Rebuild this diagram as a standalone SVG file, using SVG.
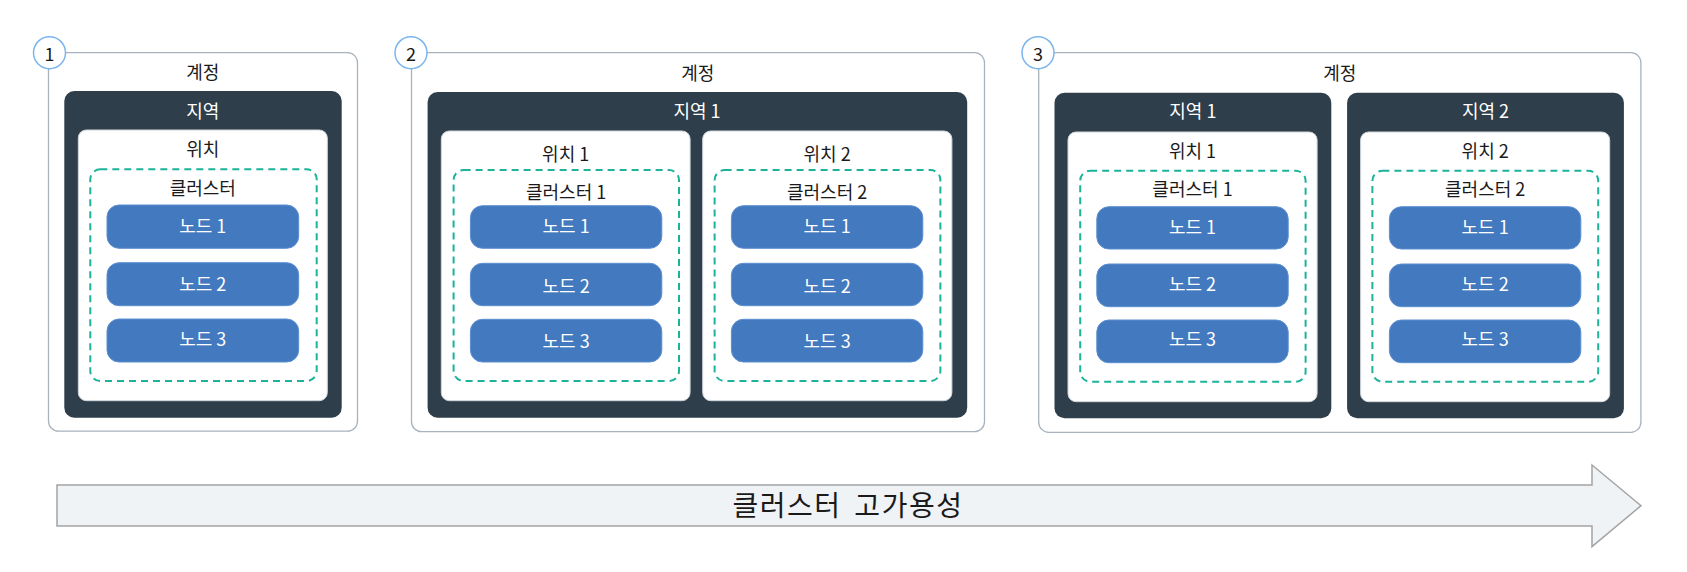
<svg xmlns="http://www.w3.org/2000/svg" width="1687" height="572" viewBox="0 0 1687 572">
<style>
text{font-family:"Noto Sans CJK KR","Noto Sans",sans-serif;font-size:18px;text-anchor:middle;dominant-baseline:central;fill:#1a1a1a}
.acct{fill:#fff;stroke:#a9b3bd;stroke-width:1.3}
.region{fill:#2e3e4a}
.loc{fill:#fff;stroke:#d0d6dc;stroke-width:1}
.clu{fill:none;stroke:#1db39b;stroke-width:2;stroke-dasharray:7 5}
.node{fill:#4379be;stroke:#5c8fd2;stroke-width:1}
.w{fill:#fff}
.num{fill:#fff;stroke:#7ab5ee;stroke-width:1.5}
.big{font-size:28px;letter-spacing:1.5px;word-spacing:5px}
</style>

<g id="panel1">
  <rect class="acct" x="48.5" y="52.7" width="309" height="378.5" rx="10"/>
  <circle class="num" cx="49.5" cy="52.7" r="16"/>
  <text x="49.5" y="52.7">1</text>
  <text x="202.7" y="70.8">계정</text>
  <g id="p1-region">
    <rect class="region" x="64.3" y="91" width="277.4" height="326.7" rx="10"/>
    <text class="w" x="202.8" y="110">지역</text>
  </g>
  <g id="p1-loc">
    <rect class="loc" x="78.3" y="130" width="249" height="270.7" rx="8"/>
    <text x="202.8" y="148.3">위치</text>
  </g>
  <g id="p1-cluster">
    <rect class="clu" x="90.3" y="169.3" width="226.4" height="211.7" rx="10"/>
    <text x="202.8" y="186.7">클러스터</text>
  </g>
  <g id="p1-n1"><rect class="node" x="107" y="205" width="191.7" height="43.3" rx="12"/><text class="w" x="202.8" y="224.5">노드 1</text></g>
  <g id="p1-n2"><rect class="node" x="107" y="262.7" width="191.7" height="43" rx="12"/><text class="w" x="202.8" y="282.5">노드 2</text></g>
  <g id="p1-n3"><rect class="node" x="107" y="319" width="191.7" height="43" rx="12"/><text class="w" x="202.8" y="338">노드 3</text></g>
</g>

<g id="panel2">
  <rect class="acct" x="411.5" y="52.7" width="573" height="379" rx="10"/>
  <circle class="num" cx="411" cy="52.7" r="16"/>
  <text x="411" y="52.7">2</text>
  <text x="697.7" y="71.7">계정</text>
  <g id="p2-region">
    <rect class="region" x="427.6" y="92" width="539.6" height="325.7" rx="10"/>
    <text class="w" x="697" y="110">지역 1</text>
  </g>
  <g id="p2-loc1">
    <rect class="loc" x="441.3" y="131" width="248.8" height="269.7" rx="8"/>
    <text x="565.7" y="152.8">위치 1</text>
  </g>
  <g id="p2-loc2">
    <rect class="loc" x="702.7" y="131" width="249.2" height="269.7" rx="8"/>
    <text x="827.1" y="152.8">위치 2</text>
  </g>
  <g id="p2-cluster1">
    <rect class="clu" x="453.6" y="170" width="225.4" height="211" rx="10"/>
    <text x="566.1" y="191.3">클러스터 1</text>
  </g>
  <g id="p2-cluster2">
    <rect class="clu" x="714.6" y="170" width="225.8" height="211" rx="10"/>
    <text x="827.1" y="191.3">클러스터 2</text>
  </g>
  <g id="p2-c1-n1"><rect class="node" x="470.4" y="205.7" width="191.4" height="42.6" rx="12"/><text class="w" x="566.1" y="224.5">노드 1</text></g>
  <g id="p2-c1-n2"><rect class="node" x="470.4" y="263.3" width="191.4" height="42.4" rx="12"/><text class="w" x="566.1" y="284.5">노드 2</text></g>
  <g id="p2-c1-n3"><rect class="node" x="470.4" y="319.3" width="191.4" height="42.7" rx="12"/><text class="w" x="566.1" y="339.5">노드 3</text></g>
  <g id="p2-c2-n1"><rect class="node" x="731.4" y="205.7" width="191.4" height="42.6" rx="12"/><text class="w" x="827.1" y="224.5">노드 1</text></g>
  <g id="p2-c2-n2"><rect class="node" x="731.4" y="263.3" width="191.4" height="42.4" rx="12"/><text class="w" x="827.1" y="284.5">노드 2</text></g>
  <g id="p2-c2-n3"><rect class="node" x="731.4" y="319.3" width="191.4" height="42.7" rx="12"/><text class="w" x="827.1" y="339.5">노드 3</text></g>
</g>

<g id="panel3">
  <rect class="acct" x="1038.7" y="52.7" width="602.2" height="379.6" rx="10"/>
  <circle class="num" cx="1038" cy="52.7" r="16"/>
  <text x="1038" y="52.7">3</text>
  <text x="1339.8" y="71.7">계정</text>
  <g id="p3-region1">
    <rect class="region" x="1054.5" y="92.7" width="276.8" height="325.6" rx="10"/>
    <text class="w" x="1192.9" y="110">지역 1</text>
  </g>
  <g id="p3-region2">
    <rect class="region" x="1347.1" y="92.7" width="276.8" height="325.6" rx="10"/>
    <text class="w" x="1485.5" y="110">지역 2</text>
  </g>
  <g id="p3-loc1">
    <rect class="loc" x="1068" y="132" width="249.1" height="269.7" rx="8"/>
    <text x="1192.5" y="149.5">위치 1</text>
  </g>
  <g id="p3-loc2">
    <rect class="loc" x="1360.6" y="132" width="249.1" height="269.7" rx="8"/>
    <text x="1485.2" y="149.5">위치 2</text>
  </g>
  <g id="p3-cluster1">
    <rect class="clu" x="1080.2" y="170.7" width="225.4" height="211" rx="10"/>
    <text x="1192.5" y="187.8">클러스터 1</text>
  </g>
  <g id="p3-cluster2">
    <rect class="clu" x="1372.4" y="170.7" width="225.8" height="211" rx="10"/>
    <text x="1485.2" y="187.8">클러스터 2</text>
  </g>
  <g id="p3-c1-n1"><rect class="node" x="1096.8" y="206.7" width="191.4" height="42.3" rx="12"/><text class="w" x="1192.5" y="226">노드 1</text></g>
  <g id="p3-c1-n2"><rect class="node" x="1096.8" y="264" width="191.4" height="42.7" rx="12"/><text class="w" x="1192.5" y="282.8">노드 2</text></g>
  <g id="p3-c1-n3"><rect class="node" x="1096.8" y="320" width="191.4" height="42.7" rx="12"/><text class="w" x="1192.5" y="337.5">노드 3</text></g>
  <g id="p3-c2-n1"><rect class="node" x="1389.4" y="206.7" width="191.4" height="42.3" rx="12"/><text class="w" x="1485.1" y="226">노드 1</text></g>
  <g id="p3-c2-n2"><rect class="node" x="1389.4" y="264" width="191.4" height="42.7" rx="12"/><text class="w" x="1485.1" y="282.8">노드 2</text></g>
  <g id="p3-c2-n3"><rect class="node" x="1389.4" y="320" width="191.4" height="42.7" rx="12"/><text class="w" x="1485.1" y="337.5">노드 3</text></g>
</g>

<g id="connectors">
  <g id="ha-arrow">
    <polygon points="57,485 1592,485 1592,465 1641,505.7 1592,546.7 1592,526 57,526" fill="#f0f3f6" stroke="#a4a4a4" stroke-width="1.5"/>
    <text class="big" x="848" y="504.2">클러스터 고가용성</text>
  </g>
</g>
</svg>
